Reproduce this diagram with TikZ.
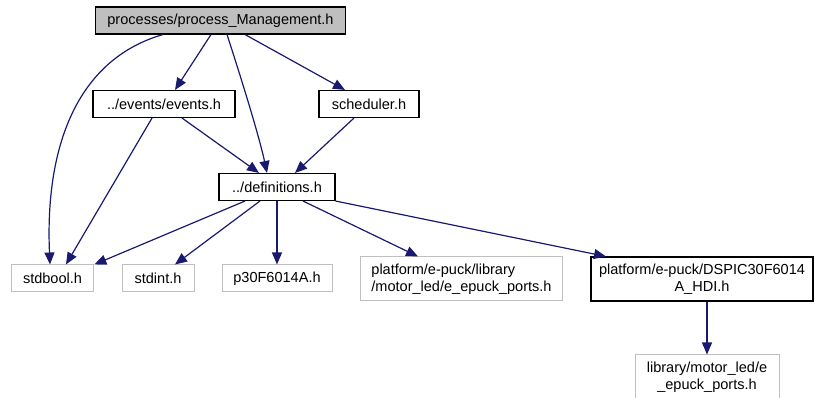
\documentclass[tikz,border=0pt]{standalone}
\usepackage{fontspec}
\setmainfont{Liberation Sans}
\usepackage{tikz}
\usetikzlibrary{arrows.meta}
\definecolor{edgeblue}{HTML}{191970}
\definecolor{docgray}{HTML}{BFBFBF}
\tikzset{
  file/.style={draw, line width=0.8pt, inner sep=1pt, minimum height=20.25pt, font=\fontsize{10.9}{12.5}\selectfont},
  extfile/.style={file, draw=docgray, line width=0.75pt},
  twoline/.style={minimum height=33pt, align=center},
  inc/.style={draw=edgeblue, line width=0.9pt, -{Triangle[length=9pt,width=7.5pt]}, fill=none},
}
\begin{document}
\begin{tikzpicture}[x=0.75pt, y=-0.75pt]
      \useasboundingbox (0,0) rectangle (814,398);
      % The file whose includes are shown, filled in gray
      \node[file, fill=docgray, minimum width=188pt] (Mgmt) at (220.5,20.5) {processes/process\_Management.h};

      % Second row: the two headers it includes directly
      \node[file, minimum width=106.5pt] (Events) at (164,104) {../events/events.h};
      \node[file, minimum width=75pt] (Sched) at (369,104) {scheduler.h};

      % Shared definitions header
      \node[file, minimum width=87pt] (Defs) at (277,187) {../definitions.h};

      % Bottom row: external headers (gray border) and the DSPIC header
      \node[extfile, minimum width=62pt] (Bool) at (52.5,278.5) {stdbool.h};
      \node[extfile, minimum width=54pt] (Int) at (158,278.5) {stdint.h};
      \node[extfile, minimum width=82.5pt] (Pic) at (277,278.5) {p30F6014A.h};
      \node[extfile, twoline, minimum width=152pt, align=left] (Ports) at (461.5,279) {platform/e-puck/library\\/motor\_led/e\_epuck\_ports.h};
      \node[file, twoline, minimum width=166.5pt] (Dspic) at (702,279) {platform/e-puck/DSPIC30F6014\\A\_HDI.h};
      \node[extfile, twoline, minimum width=108pt] (LibPorts) at (707,377) {library/motor\_led/e\\\_epuck\_ports.h};

      % Includes of the top file
      \draw[inc] (Mgmt.south -| 163,0) .. controls (75,60) and (45,150) .. (Bool.north -| 50,0);
      \draw[inc] (Mgmt.south -| 211,0) -- (Events.north -| 175,0);
      \draw[inc] (Mgmt.south -| 227,0) .. controls (245,90) and (260,140) .. (Defs.north -| 267,0);
      \draw[inc] (Mgmt.south -| 245,0) -- (Sched.north -| 345,0);

      % Includes of the second row
      \draw[inc] (Events.south -| 152,0) -- (Bool.north -| 66,0);
      \draw[inc] (Events.south -| 182,0) -- (Defs.north -| 259,0);
      \draw[inc] (Sched.south -| 354,0) -- (Defs.north -| 295,0);

      % Includes of the definitions header
      \draw[inc] (Defs.south -| 245,0) -- (Bool.north east);
      \draw[inc] (Defs.south -| 260,0) -- (Int.north -| 175,0);
      \draw[inc] (Defs) -- (Pic);
      \draw[inc] (Defs.south -| 303,0) -- (Ports.north -| 418,0);
      \draw[inc] (Defs.south east) -- (Dspic.north -| 606,0);

      % Include of the DSPIC header
      \draw[inc] (Dspic.south -| 707,0) -- (LibPorts);
\end{tikzpicture}
\end{document}
